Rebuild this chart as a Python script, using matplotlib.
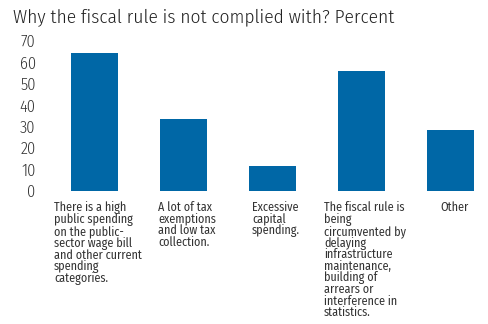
import matplotlib
matplotlib.use("Agg")
import matplotlib.pyplot as plt

FONT = "Fira Sans Condensed"
plt.rcParams['font.family'] = [FONT, 'DejaVu Sans']

categories = [
    "There is a high\npublic spending\non the public-\nsector wage bill\nand other current\nspending\ncategories.",
    "A lot of tax\nexemptions\nand low tax\ncollection.",
    "Excessive\ncapital\nspending.",
    "The fiscal rule is\nbeing\ncircumvented by\ndelaying\ninfrastructure\nmaintenance,\nbuilding of\narrears or\ninterference in\nstatistics.",
    "Other",
]
values = [64.5, 33.5, 11.5, 56, 28.5]
yticks = [0, 10, 20, 30, 40, 50, 60, 70]
title = "Why the fiscal rule is not complied with? Percent"

W, H = 488, 324
fig = plt.figure(figsize=(W/100, H/100), dpi=100)
ax = fig.add_axes([50/W, 1 - 191/H, (488-50)/W, (191-41)/H])

x = list(range(len(values)))
ax.bar(x, values, width=0.52, color="#0067A6")
ax.set_ylim(0, 70)
ax.set_xlim(-0.5, 4.42)
ax.set_yticks(yticks)
ax.set_yticklabels([str(v) for v in yticks], fontsize=11.8, color="#333333", fontweight=300)
ax.tick_params(axis='y', length=0, pad=10.3)
ax.set_xticks([])
for s in ax.spines.values():
    s.set_visible(False)

for i, lab in enumerate(categories):
    ax.annotate(lab, xy=(i, 0), xycoords='data', xytext=(2.5, -7.5), textcoords='offset points',
                ha='center', va='top', multialignment='left', fontsize=8.7,
                color="#333333", linespacing=0.9)

fig.text(13/W, 1 - 8/H, title, ha='left', va='top', fontsize=13.9, color="#222222", fontweight=300)

fig.savefig("out.png", dpi=100)
